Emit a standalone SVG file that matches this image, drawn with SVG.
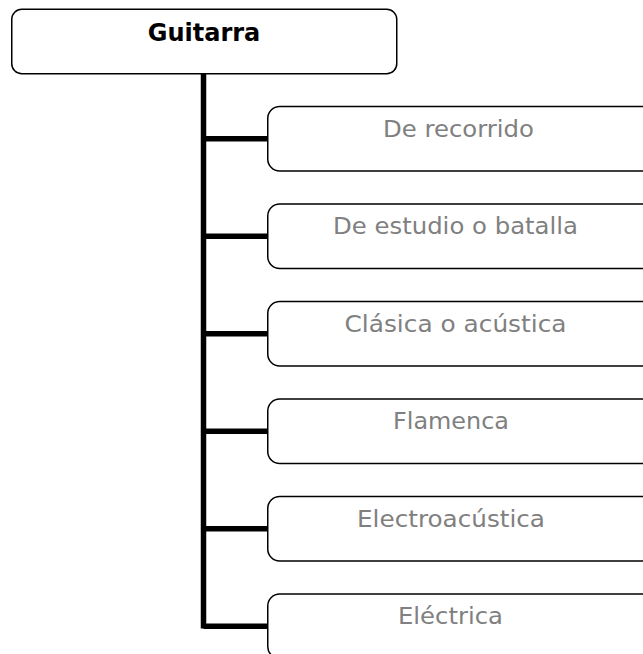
<svg xmlns="http://www.w3.org/2000/svg" width="643" height="654" viewBox="0 0 643 654">
<style>
.box{fill:#fff;stroke:#000;stroke-width:1.5}
.conn{stroke:#000;stroke-width:5.5;fill:none;stroke-linecap:butt}
.t{font-family:"DejaVu Sans",sans-serif;font-size:22.5px;fill:#808080;text-anchor:middle}
.title{font-family:"DejaVu Sans",sans-serif;font-size:24px;font-weight:bold;fill:#000;text-anchor:middle}
</style>
<rect width="643" height="654" fill="#fff"/>
<g id="connectors">
<path class="conn" d="M203.5 74 V628.5"/>
<path class="conn" d="M203.5 138.75 H268"/>
<path class="conn" d="M203.5 236.25 H268"/>
<path class="conn" d="M203.5 333.75 H268"/>
<path class="conn" d="M203.5 431.25 H268"/>
<path class="conn" d="M203.5 528.75 H268"/>
<path class="conn" d="M203.5 626.25 H268"/>
</g>
<g id="guitarra">
<rect class="box" x="11.75" y="9.25" width="385" height="64.5" rx="10"/>
<text class="title" x="204" y="40.7">Guitarra</text>
</g>
<g id="de-recorrido">
<rect class="box" x="267.75" y="106.5" width="390" height="64.5" rx="12"/>
<text class="t" x="458.5" y="136.7" textLength="151" lengthAdjust="spacingAndGlyphs">De recorrido</text>
</g>
<g id="de-estudio">
<rect class="box" x="267.75" y="204" width="390" height="64.5" rx="12"/>
<text class="t" x="455.5" y="234.2" textLength="245" lengthAdjust="spacingAndGlyphs">De estudio o batalla</text>
</g>
<g id="clasica">
<rect class="box" x="267.75" y="301.5" width="390" height="64.5" rx="12"/>
<text class="t" x="455.5" y="331.7" textLength="222" lengthAdjust="spacingAndGlyphs">Clásica o acústica</text>
</g>
<g id="flamenca">
<rect class="box" x="267.75" y="399" width="390" height="64.5" rx="12"/>
<text class="t" x="451" y="429.2" textLength="116" lengthAdjust="spacingAndGlyphs">Flamenca</text>
</g>
<g id="electroacustica">
<rect class="box" x="267.75" y="496.5" width="390" height="64.5" rx="12"/>
<text class="t" x="451" y="526.7" textLength="188" lengthAdjust="spacingAndGlyphs">Electroacústica</text>
</g>
<g id="electrica">
<rect class="box" x="267.75" y="594" width="390" height="64.5" rx="12"/>
<text class="t" x="450.5" y="624.2" textLength="105" lengthAdjust="spacingAndGlyphs">Eléctrica</text>
</g>
</svg>
